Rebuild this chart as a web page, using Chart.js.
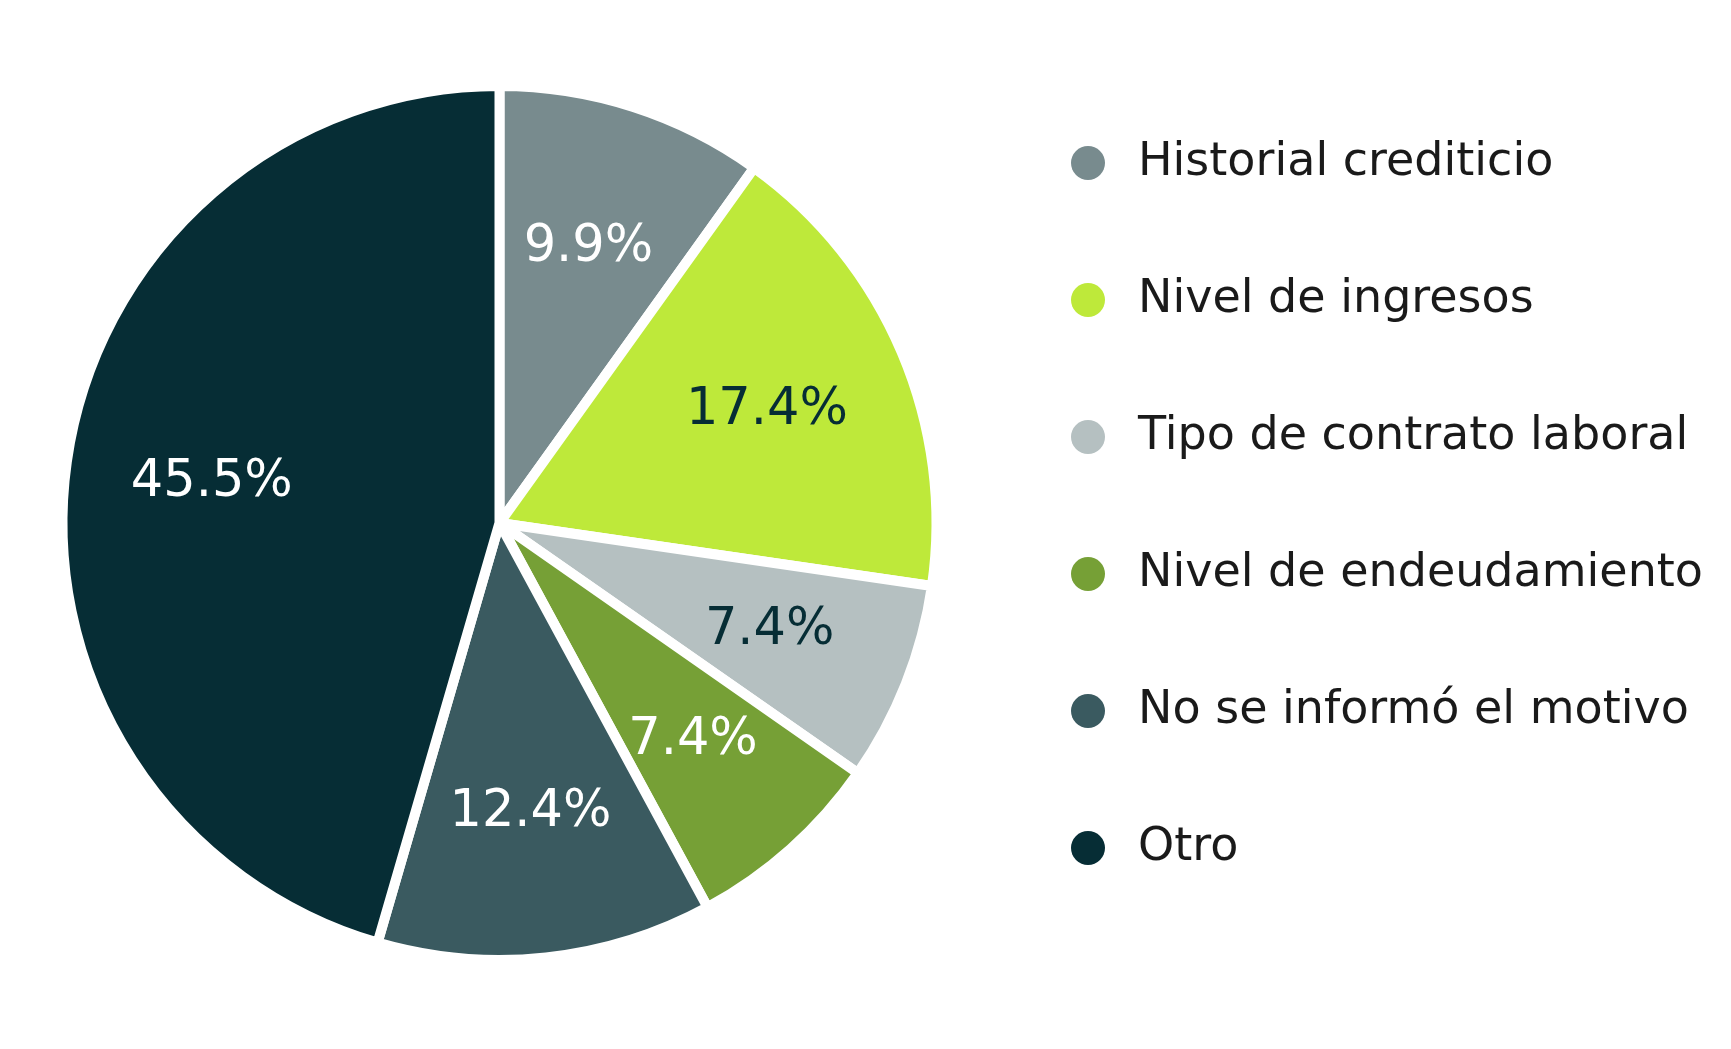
<!DOCTYPE html>
<html>
<head>
<meta charset="utf-8">
<title>Motivo del rechazo</title>
<script src="https://cdn.jsdelivr.net/npm/chart.js@4.4.1/dist/chart.umd.min.js"></script>
<style>
  html, body { margin: 0; padding: 0; background: #fff; }
  #wrap { width: 1731px; height: 1049px; position: relative; }
</style>
</head>
<body>
<div id="wrap"><canvas id="pieChart"></canvas></div>
<script>
// Datos del gráfico
const categorias = [
    'Historial crediticio',
    'Nivel de ingresos',
    'Tipo de contrato laboral',
    'Nivel de endeudamiento',
    'No se informó el motivo',
    'Otro'
];
const porcentajes = [9.9, 17.4, 7.4, 7.4, 12.4, 45.5];

const colores = ['#788b8e', '#bee93a', '#b5c0c1', '#76a036', '#3a5a60', '#062d35'];
const coloresTexto = ['#ffffff', '#062d35', '#062d35', '#ffffff', '#ffffff', '#ffffff'];

// etiquetas dentro de cada porción
const pctLabels = {
    id: 'pctLabels',
    afterDatasetsDraw(chart) {
        const { ctx } = chart;
        const meta = chart.getDatasetMeta(0);
        ctx.save();
        ctx.font = '51px "DejaVu Sans"';
        ctx.textAlign = 'center';
        ctx.textBaseline = 'middle';
        meta.data.forEach((arc, i) => {
            const { x, y, startAngle, endAngle, outerRadius } = arc.getProps(['x', 'y', 'startAngle', 'endAngle', 'outerRadius'], true);
            const mid = (startAngle + endAngle) / 2;
            const r = outerRadius * 0.665;
            ctx.fillStyle = coloresTexto[i];
            ctx.fillText(porcentajes[i].toFixed(1) + '%', x + Math.cos(mid) * r, y + Math.sin(mid) * r + 1);
        });
        ctx.restore();
    }
};

// leyenda a la derecha
const sideLegend = {
    id: 'sideLegend',
    afterDraw(chart) {
        const { ctx } = chart;
        const o = chart.options.plugins.sideLegend;
        ctx.save();
        ctx.font = '46px "DejaVu Sans"';
        ctx.textAlign = 'left';
        ctx.textBaseline = 'middle';
        chart.data.labels.forEach((lab, i) => {
            const y = o.top + i * o.step;
            ctx.beginPath();
            ctx.arc(o.dotX, y, 17, 0, Math.PI * 2);
            ctx.fillStyle = chart.data.datasets[0].backgroundColor[i];
            ctx.fill();
            ctx.fillStyle = '#1a1a1a';
            ctx.fillText(lab, o.textX, y);
        });
        ctx.restore();
    }
};

document.addEventListener('DOMContentLoaded', () => {
    const ctx = document.getElementById('pieChart').getContext('2d');

    new Chart(ctx, {
        type: 'pie',
        data: {
            labels: categorias,
            datasets: [{
                data: porcentajes,
                backgroundColor: colores,
                borderColor: '#ffffff',
                borderWidth: 10
            }]
        },
        options: {
            responsive: true,
            maintainAspectRatio: false,
            animation: false,
            layout: {
                padding: { left: 57, right: 789, top: 81, bottom: 84 }
            },
            plugins: {
                legend: { display: false },
                tooltip: { enabled: false },
                sideLegend: { dotX: 1088, textX: 1138, top: 163, step: 137 }
            }
        },
        plugins: [pctLabels, sideLegend]
    });
});
</script>
</body>
</html>
